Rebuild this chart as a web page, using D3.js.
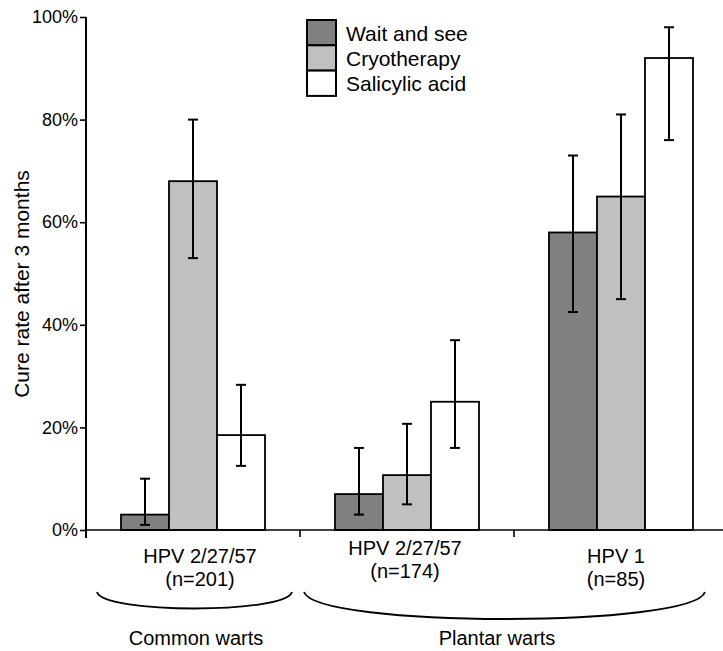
<!DOCTYPE html>
<html>
<head>
<meta charset="utf-8">
<script src="https://cdn.jsdelivr.net/npm/d3@7"></script>
<style>
  html, body { margin: 0; padding: 0; background: #fff; }
  svg { display: block; font-family: "Liberation Sans", Arial, sans-serif; }
</style>
</head>
<body>
<svg id="chart" width="723" height="651"></svg>
<script>
// ---- data ----
const groups = ["g1", "g2", "g3"];
const groupLine1 = ["HPV 2/27/57", "HPV 2/27/57", "HPV 1"];
const groupLine2 = ["(n=201)", "(n=174)", "(n=85)"];
const series = ["Wait and see", "Cryotherapy", "Salicylic acid"];
const waitAndSee = [3, 7, 58];
const cryotherapy = [68, 10.7, 65];
const salicylic = [18.5, 25, 92];
const waitLow = [1, 3, 42.5];
const waitHigh = [10, 16, 73];
const cryoLow = [53, 5, 45];
const cryoHigh = [80, 20.7, 81];
const salLow = [12.5, 16, 76];
const salHigh = [28.3, 37, 98];
const yTicks = [0, 20, 40, 60, 80, 100];
const wartTypes = ["Common warts", "Plantar warts"];
const wartSpans = [[0, 0], [1, 2]];
const yLabel = "Cure rate after 3 months";

// ---- layout ----
const colors = ["#808080", "#c0c0c0", "#ffffff"];
const svg = d3.select("#chart");
const W = 723;
const x0 = d3.scaleBand().domain(groups).range([86, 728]).padding(0);
const barW = 48;
const x1 = d3.scaleBand().domain(series).range([0, barW * series.length]).padding(0);
const inset = (x0.bandwidth() - barW * series.length) / 2;
const y = d3.scaleLinear().domain([0, 100]).range([530, 17]);

const values = [waitAndSee, cryotherapy, salicylic];
const lows = [waitLow, cryoLow, salLow];
const highs = [waitHigh, cryoHigh, salHigh];

const rows = [];
groups.forEach((g, gi) => {
  series.forEach((s, si) => {
    rows.push({ g, s, si, v: values[si][gi], lo: lows[si][gi], hi: highs[si][gi] });
  });
});

// bars
svg.append("g").selectAll("rect").data(rows).join("rect")
  .attr("x", d => x0(d.g) + inset + x1(d.s))
  .attr("y", d => y(d.v))
  .attr("width", x1.bandwidth())
  .attr("height", d => y(0) - y(d.v))
  .attr("fill", d => colors[d.si])
  .attr("stroke", "#000")
  .attr("stroke-width", 1.8);

// error bars
const eb = svg.append("g").attr("stroke", "#000").attr("stroke-width", 2);
rows.forEach(d => {
  const cx = x0(d.g) + inset + x1(d.s) + x1.bandwidth() / 2;
  eb.append("line").attr("x1", cx).attr("x2", cx).attr("y1", y(d.lo)).attr("y2", y(d.hi));
  eb.append("line").attr("x1", cx - 5).attr("x2", cx + 5).attr("y1", y(d.lo)).attr("y2", y(d.lo));
  eb.append("line").attr("x1", cx - 5).attr("x2", cx + 5).attr("y1", y(d.hi)).attr("y2", y(d.hi));
});

// y axis
const yAxis = svg.append("g").attr("transform", "translate(86,0)")
  .call(d3.axisLeft(y).tickValues(yTicks).tickFormat(d => d + "%").tickSize(6).tickPadding(2));
yAxis.select(".domain").remove();
yAxis.selectAll(".tick line").attr("stroke", "#000").attr("stroke-width", 1.6);
yAxis.selectAll("text").attr("font-size", 18).attr("fill", "#000")
  .attr("font-family", "Liberation Sans, Arial, sans-serif");
svg.append("line").attr("x1", 86).attr("x2", 86).attr("y1", y(100)).attr("y2", y(0) + 8)
  .attr("stroke", "#000").attr("stroke-width", 2);

// x axis
svg.append("line").attr("x1", 86).attr("x2", W).attr("y1", y(0)).attr("y2", y(0))
  .attr("stroke", "#000").attr("stroke-width", 1.6);
svg.append("g").selectAll("line").data(groups).join("line")
  .attr("x1", d => x0(d)).attr("x2", d => x0(d))
  .attr("y1", y(0)).attr("y2", y(0) + 7)
  .attr("stroke", "#000").attr("stroke-width", 1.6);

// category labels
const labDx = [7, -2, -5];
const labDy = [0, -8, 0];
groups.forEach((g, gi) => {
  const cx = x0(g) + x0.bandwidth() / 2 + labDx[gi];
  const t = svg.append("text").attr("text-anchor", "middle").attr("font-size", 20).attr("fill", "#000");
  t.append("tspan").attr("x", cx).attr("y", 563 + labDy[gi]).text(groupLine1[gi]);
  t.append("tspan").attr("x", cx).attr("y", 586 + labDy[gi]).text(groupLine2[gi]);
});

// braces
const braceInset = [[11, 8], [4, 23]];
const braceDepth = [22, 36];
wartSpans.forEach((sp, i) => {
  const xa = x0(groups[sp[0]]) + braceInset[i][0];
  const xb = x0(groups[sp[1]]) + x0.bandwidth() - braceInset[i][1];
  const y0 = 592;
  const w = xb - xa;
  const k = braceDepth[i];
  svg.append("path")
    .attr("d", `M${xa},${y0} C${xa + w * 0.03},${y0 + k} ${xb - w * 0.03},${y0 + k} ${xb},${y0}`)
    .attr("fill", "none").attr("stroke", "#000").attr("stroke-width", 1.8);
});

// wart type labels
const wartCx = [196, 497];
wartTypes.forEach((t, i) => {
  svg.append("text").attr("x", wartCx[i]).attr("y", 645)
    .attr("text-anchor", "middle").attr("font-size", 20).attr("fill", "#000").text(t);
});

// y label
svg.append("text").attr("transform", "translate(29,284) rotate(-90)")
  .attr("text-anchor", "middle").attr("font-size", 21).attr("fill", "#000").text(yLabel);

// legend
const leg = svg.append("g").attr("transform", "translate(307,20)");
series.forEach((s, i) => {
  leg.append("rect").attr("x", 0).attr("y", i * 25.3).attr("width", 29).attr("height", 25.3)
    .attr("fill", colors[i]).attr("stroke", "#000").attr("stroke-width", 2);
  leg.append("text").attr("x", 39).attr("y", i * 25.3 + 20.5).attr("font-size", 21)
    .attr("fill", "#000").text(s);
});
</script>
</body>
</html>
